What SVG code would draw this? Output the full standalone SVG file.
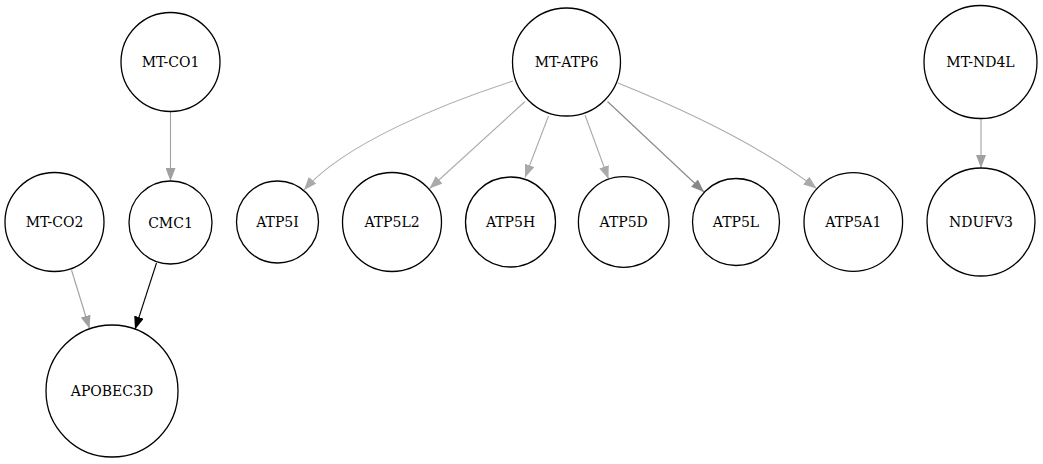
<svg xmlns="http://www.w3.org/2000/svg" width="1043" height="464" viewBox="0 0 1043 464">
<style>
.node circle{fill:#fff;stroke:#000;stroke-width:1.3}
.node text{font-family:"DejaVu Serif","Liberation Serif",serif;font-size:14px;text-anchor:middle;fill:#000}
.e{fill:none;stroke-width:1.1}
.g1{stroke:#aaaaaa}
.g2{stroke:#a0a0a0}
.g3{stroke:#888888}
.bk{stroke:#000}
</style>
<defs>
<marker id="a1" viewBox="0 0 13 10" markerWidth="13" markerHeight="10" markerUnits="userSpaceOnUse" refX="13" refY="5" orient="auto"><path d="M0,0L13,5L0,10z" fill="#aaaaaa"/></marker>
<marker id="a2" viewBox="0 0 13 10" markerWidth="13" markerHeight="10" markerUnits="userSpaceOnUse" refX="13" refY="5" orient="auto"><path d="M0,0L13,5L0,10z" fill="#a0a0a0"/></marker>
<marker id="a3" viewBox="0 0 13 10" markerWidth="13" markerHeight="10" markerUnits="userSpaceOnUse" refX="13" refY="5" orient="auto"><path d="M0,0L13,5L0,10z" fill="#888888"/></marker>
<marker id="ak" viewBox="0 0 13 10" markerWidth="13" markerHeight="10" markerUnits="userSpaceOnUse" refX="13" refY="5" orient="auto"><path d="M0,0L13,5L0,10z" fill="#000"/></marker>
</defs>
<rect width="1043" height="464" fill="#fff"/>
<g id="edges">
<path class="e g2" d="M170.5,111.5L170.5,181" marker-end="url(#a2)"/>
<path class="e g2" d="M71.5,270L89.5,328.5" marker-end="url(#a2)"/>
<path class="e bk" d="M156.5,263L135,329.5" marker-end="url(#ak)"/>
<path class="e g1" d="M513,81C445,103 345,143 304,190" marker-end="url(#a1)"/>
<path class="e g1" d="M525,101.5L429.5,188.5" marker-end="url(#a1)"/>
<path class="e g1" d="M548.5,116L525,177.5" marker-end="url(#a1)"/>
<path class="e g1" d="M585,115L608.5,179" marker-end="url(#a1)"/>
<path class="e g3" d="M607.5,101.5L704,192" marker-end="url(#a3)"/>
<path class="e g1" d="M618,83C680,108 760,145 816.5,188.5" marker-end="url(#a1)"/>
<path class="e g2" d="M981,119L981,168" marker-end="url(#a2)"/>
</g>
<g id="n-MT-CO1" class="node"><circle cx="170.5" cy="62" r="49.5"/><text x="170.5" y="67">MT-CO1</text></g>
<g id="n-MT-CO2" class="node"><circle cx="54.5" cy="222" r="49.5"/><text x="54.5" y="227">MT-CO2</text></g>
<g id="n-CMC1" class="node"><circle cx="170.5" cy="222.5" r="41.5"/><text x="170.5" y="227.5">CMC1</text></g>
<g id="n-APOBEC3D" class="node"><circle cx="112" cy="391" r="66"/><text x="112" y="396">APOBEC3D</text></g>
<g id="n-MT-ATP6" class="node"><circle cx="566.5" cy="62" r="54"/><text x="566.5" y="67">MT-ATP6</text></g>
<g id="n-ATP5I" class="node"><circle cx="277.5" cy="222" r="41"/><text x="277.5" y="227">ATP5I</text></g>
<g id="n-ATP5L2" class="node"><circle cx="392" cy="222" r="49.5"/><text x="392" y="227">ATP5L2</text></g>
<g id="n-ATP5H" class="node"><circle cx="510.5" cy="222" r="45"/><text x="510.5" y="227">ATP5H</text></g>
<g id="n-ATP5D" class="node"><circle cx="623.7" cy="222" r="45.3"/><text x="623.7" y="227">ATP5D</text></g>
<g id="n-ATP5L" class="node"><circle cx="736" cy="222" r="43.5"/><text x="736" y="227">ATP5L</text></g>
<g id="n-ATP5A1" class="node"><circle cx="853.3" cy="222" r="49.3"/><text x="853.3" y="227">ATP5A1</text></g>
<g id="n-MT-ND4L" class="node"><circle cx="980.5" cy="62" r="56.5"/><text x="980.5" y="67">MT-ND4L</text></g>
<g id="n-NDUFV3" class="node"><circle cx="981" cy="222" r="54"/><text x="981" y="227">NDUFV3</text></g>
</svg>
